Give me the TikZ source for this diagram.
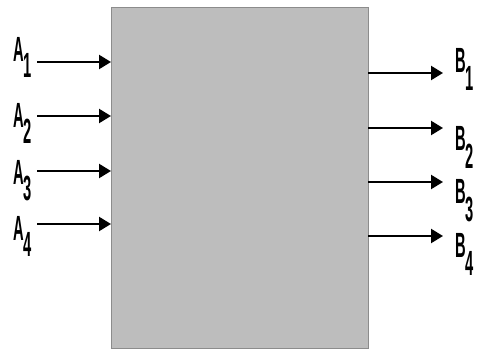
\documentclass[tikz,border=0pt]{standalone}
\usepackage{fontspec}
\setmainfont{Liberation Sans}
\usetikzlibrary{arrows.meta}
\begin{document}
\begin{tikzpicture}[x=1pt,y=-1pt,
  blk/.style={draw=black!45,line width=0.6pt,fill=black!26},
  lbl/.style={inner sep=0pt,anchor=base west,font=\fontsize{35}{35}\selectfont\bfseries},
  sig/.style={line width=2.3pt,-{Triangle[length=12pt,width=14pt]}}]
\useasboundingbox (0,0) rectangle (482,350);
\path[blk] (111,7) rectangle (368,348);
\coordinate (boxNW) at (111,7);
\coordinate (boxNE) at (368,7);
% inputs
\node[lbl] (a1) at (13,62) {\scalebox{0.42}[1]{A\raisebox{-16pt}{1}}};
\node[lbl] (a2) at (13,128) {\scalebox{0.42}[1]{A\raisebox{-16pt}{2}}};
\node[lbl] (a3) at (13,185) {\scalebox{0.42}[1]{A\raisebox{-16pt}{3}}};
\node[lbl] (a4) at (13,240) {\scalebox{0.42}[1]{A\raisebox{-16pt}{4}}};
\coordinate (i1) at (37,62);
\coordinate (i2) at (37,116);
\coordinate (i3) at (37,171);
\coordinate (i4) at (37,224);
\foreach \k in {1,...,4} \draw[sig] (i\k) -- (boxNW |- i\k);
% outputs
\coordinate (o1) at (443,73);
\coordinate (o2) at (443,128);
\coordinate (o3) at (443,182);
\coordinate (o4) at (443,236);
\foreach \k in {1,...,4} \draw[sig] (boxNE |- o\k) -- (o\k);
\node[lbl] (b1) at (455,73) {\scalebox{0.42}[1]{B\raisebox{-18pt}{1}}};
\node[lbl] (b2) at (455,150) {\scalebox{0.42}[1]{B\raisebox{-18pt}{2}}};
\node[lbl] (b3) at (455,203) {\scalebox{0.42}[1]{B\raisebox{-18pt}{3}}};
\node[lbl] (b4) at (455,257) {\scalebox{0.42}[1]{B\raisebox{-18pt}{4}}};
\end{tikzpicture}
\end{document}
